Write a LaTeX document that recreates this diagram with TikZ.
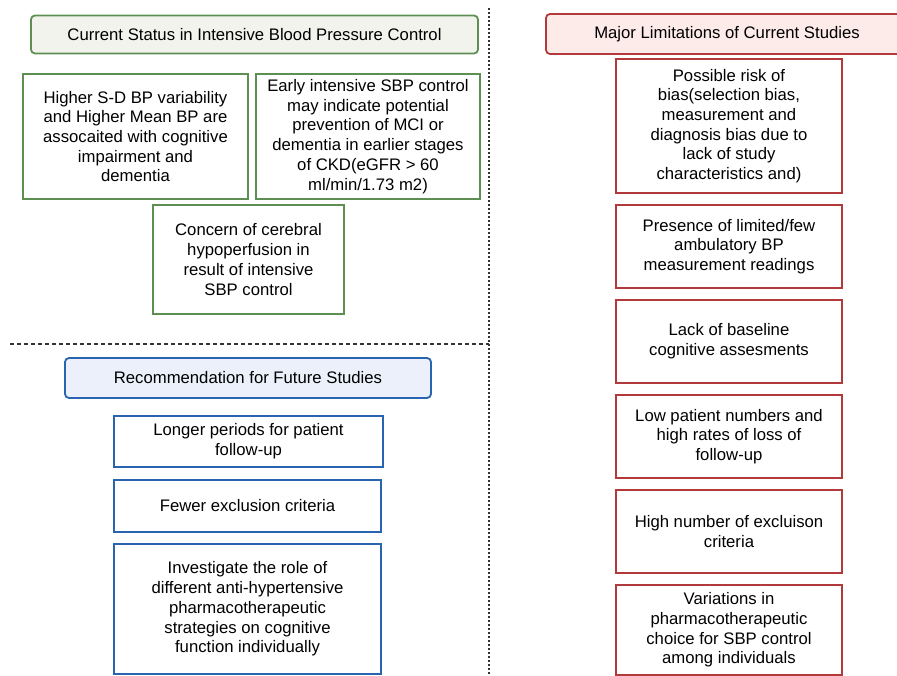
\documentclass[tikz,border=0pt]{standalone}
\usepackage{fontspec}
\setmainfont{Liberation Sans}
\definecolor{gline}{HTML}{5E8F52}
\definecolor{gfill}{HTML}{F3F3EE}
\definecolor{rline}{HTML}{B23A3A}
\definecolor{rfill}{HTML}{FDEBEA}
\definecolor{bline}{HTML}{2864B0}
\definecolor{bfill}{HTML}{EBF0FB}
\begin{document}
\begin{tikzpicture}[x=1pt,y=-1pt,
  txt/.style={align=center,inner sep=0pt,font=\fontsize{16.7}{19.7}\selectfont,text=black},
  hdr/.style={txt,rounded corners=4pt,line width=1.8pt},
  gbox/.style={txt,draw=gline,line width=1.8pt},
  rbox/.style={txt,draw=rline,line width=1.8pt,minimum width=226pt},
  bbox/.style={txt,draw=bline,line width=1.8pt},
  divider/.style={line width=1.6pt,black!80}]
\useasboundingbox (0,0) rectangle (897,676);
% dividers
\coordinate (v1) at (489,8);
\coordinate (v2) at (489,676);
\coordinate (h1) at (10,344);
\coordinate (h2) at (489,344);
\draw[divider,dash pattern=on 2pt off 2pt] (v1) -- (v2);
\draw[divider,dash pattern=on 4pt off 3pt] (h1) -- (h2);
% green section
\node[hdr,draw=gline,fill=gfill,minimum width=447pt,minimum height=38pt] (gh) at (254.5,34.5) {Current Status in Intensive Blood Pressure Control};
\node[gbox,minimum width=225pt,minimum height=125pt] (ga) at (135.5,136.5) {Higher S-D BP variability\\and Higher Mean BP are\\assocaited with cognitive\\impairment and\\dementia};
\node[gbox,minimum width=224pt,minimum height=125pt] (gb) at (368,136.5) {Early intensive SBP control\\may indicate potential\\prevention of MCI or\\dementia in earlier stages\\of CKD(eGFR > 60\\ml/min/1.73 m2)};
\node[gbox,minimum width=191pt,minimum height=109pt] (gc) at (248.5,259.5) {Concern of cerebral\\hypoperfusion in\\result of intensive\\SBP control};
% blue section
\node[hdr,draw=bline,fill=bfill,minimum width=366pt,minimum height=40pt] (bh) at (248,378) {Recommendation for Future Studies};
\node[bbox,minimum width=269pt,minimum height=51pt] (b1) at (248.5,441.5) {Longer periods for patient\\follow-up};
\node[bbox,minimum width=267pt,minimum height=52pt] (b2) at (247.5,506) {Fewer exclusion criteria};
\node[bbox,minimum width=267pt,minimum height=130pt] (b3) at (247.5,609) {Investigate the role of\\different anti-hypertensive\\pharmacotherapeutic\\strategies on cognitive\\function individually};
% red section
\node[hdr,draw=rline,fill=rfill,minimum width=362pt,minimum height=40pt] (rh) at (727,34) {Major Limitations of Current Studies};
\node[rbox,minimum height=134pt] (r1) at (729,126) {Possible risk of\\bias(selection bias,\\measurement and\\diagnosis bias due to\\lack of study\\characteristics and)};
\node[rbox,minimum height=83pt] (r2) at (729,246.5) {Presence of limited/few\\ambulatory BP\\measurement readings};
\node[rbox,minimum height=83pt] (r3) at (729,341.5) {Lack of baseline\\cognitive assesments};
\node[rbox,minimum height=83pt] (r4) at (729,436.5) {Low patient numbers and\\high rates of loss of\\follow-up};
\node[rbox,minimum height=83pt] (r5) at (729,531.5) {High number of excluison\\criteria};
\node[rbox,minimum height=90pt] (r6) at (729,630) {Variations in\\pharmacotherapeutic\\choice for SBP control\\among individuals};
\end{tikzpicture}
\end{document}
